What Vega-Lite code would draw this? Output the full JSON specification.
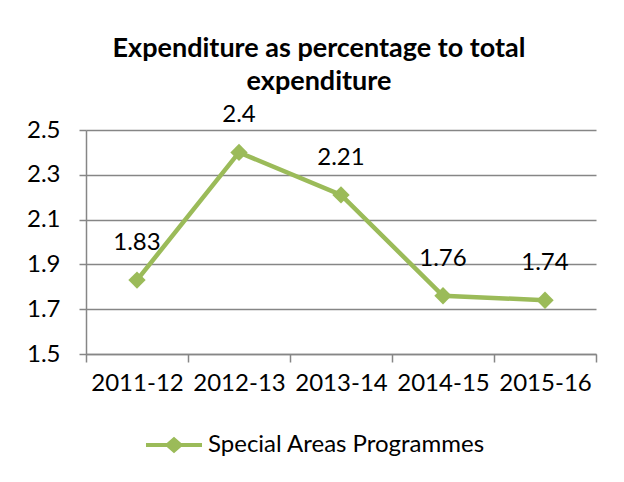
{
  "$schema": "https://vega.github.io/schema/vega-lite/v6.json",
  "width": 510,
  "height": 224,
  "autosize": {"type": "none"},
  "padding": {"left": 86, "top": 130, "right": 28, "bottom": 128},
  "background": "white",
  "config": {
    "view": {"stroke": null},
    "font": "Lato"
  },
  "title": {
    "text": ["Expenditure as percentage to total", "expenditure"],
    "font": "Lato",
    "fontSize": 27,
    "fontWeight": "bold",
    "color": "#000000",
    "lineHeight": 33,
    "anchor": "middle",
    "dx": -22,
    "offset": 7
  },
  "data": {
    "values": [
      {"year": "2011-12", "value": 1.83, "series": "Special Areas Programmes"},
      {"year": "2012-13", "value": 2.4, "series": "Special Areas Programmes"},
      {"year": "2013-14", "value": 2.21, "series": "Special Areas Programmes"},
      {"year": "2014-15", "value": 1.76, "series": "Special Areas Programmes"},
      {"year": "2015-16", "value": 1.74, "series": "Special Areas Programmes"}
    ]
  },
  "encoding": {
    "x": {
      "field": "year",
      "type": "nominal",
      "sort": null,
      "title": null,
      "scale": {"paddingInner": 0, "paddingOuter": 0},
      "axis": {
        "labelAngle": 0,
        "labelFont": "Lato",
        "labelFontSize": 24,
        "labelColor": "#000000",
        "labelPadding": 9,
        "tickBand": "extent",
        "tickSize": 8,
        "tickColor": "#868686",
        "tickWidth": 1.5,
        "domainColor": "#868686",
        "domainWidth": 1.5,
        "grid": false
      }
    },
    "y": {
      "field": "value",
      "type": "quantitative",
      "title": null,
      "scale": {"domain": [1.5, 2.5], "nice": false, "zero": false},
      "axis": {
        "values": [1.5, 1.7, 1.9, 2.1, 2.3, 2.5],
        "format": ".1f",
        "labelFont": "Lato",
        "labelFontSize": 24,
        "labelColor": "#000000",
        "labelPadding": 19,
        "tickSize": 7,
        "tickColor": "#868686",
        "tickWidth": 1.5,
        "domainColor": "#868686",
        "domainWidth": 1.5,
        "grid": true,
        "gridColor": "#868686",
        "gridWidth": 1.5
      }
    }
  },
  "layer": [
    {
      "mark": {"type": "line", "strokeWidth": 4.5},
      "encoding": {
        "color": {
          "field": "series",
          "type": "nominal",
          "scale": {"range": ["#9BBB59"]},
          "legend": {
            "title": null,
            "orient": "none",
            "legendX": 58,
            "legendY": 285,
            "direction": "horizontal",
            "symbolType": "M-1,0L-0.23,0L0,-0.2L0.23,0L1,0L0.23,0L0,0.2L-0.23,0Z",
            "symbolSize": 3136,
            "symbolStrokeWidth": 4,
            "symbolFillColor": "#9BBB59",
            "symbolStrokeColor": "#9BBB59",
            "labelFont": "Lato",
            "labelFontSize": 24,
            "labelColor": "#000000",
            "labelOffset": 4,
            "labelLimit": 0
          }
        }
      }
    },
    {
      "mark": {"type": "point", "shape": "diamond", "filled": true, "size": 300, "opacity": 1, "color": "#9BBB59"}
    },
    {
      "mark": {"type": "text", "dy": -37, "font": "Lato", "fontSize": 24, "color": "#000000"},
      "encoding": {"text": {"field": "value", "type": "quantitative"}}
    }
  ]
}
